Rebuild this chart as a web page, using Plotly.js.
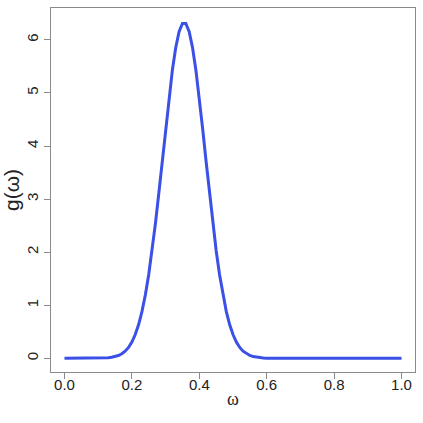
<!DOCTYPE html>
<html>
<head>
<meta charset="utf-8">
<script src="https://cdn.plot.ly/plotly-3.0.1.min.js"></script>
<style>html,body{margin:0;padding:0;background:#fff}#chart{width:423px;height:423px}</style>
</head>
<body>
<div id="chart"></div>
<script>
var omega = [0.00,0.01,0.02,0.03,0.04,0.05,0.06,0.07,0.08,0.09,
  0.10,0.11,0.12,0.13,0.14,0.15,0.16,0.17,0.18,0.19,
  0.20,0.21,0.22,0.23,0.24,0.25,0.26,0.27,0.28,0.29,
  0.30,0.31,0.32,0.33,0.34,0.35,0.36,0.37,0.38,0.39,
  0.40,0.41,0.42,0.43,0.44,0.45,0.46,0.47,0.48,0.49,
  0.50,0.51,0.52,0.53,0.54,0.55,0.56,0.57,0.58,0.59,
  0.60,0.61,0.62,0.63,0.64,0.65,0.66,0.67,0.68,0.69,
  0.70,0.71,0.72,0.73,0.74,0.75,0.76,0.77,0.78,0.79,
  0.80,0.81,0.82,0.83,0.84,0.85,0.86,0.87,0.88,0.89,
  0.90,0.91,0.92,0.93,0.94,0.95,0.96,0.97,0.98,0.99,1.00];
var gValues = [0,0,0,0,0,0,0,0,0,0.001,
  0.002,0.003,0.006,0.011,0.019,0.032,0.053,0.085,0.134,0.205,
  0.307,0.448,0.637,0.884,1.196,1.579,2.031,2.547,3.116,3.718,
  4.324,4.904,5.425,5.851,6.153,6.31,6.31,6.153,5.851,5.425,
  4.904,4.324,3.718,3.116,2.547,2.031,1.579,1.196,0.884,0.637,
  0.448,0.307,0.205,0.134,0.085,0.053,0.032,0.019,0.011,0.006,
  0.003,0.002,0.001,0,0,0,0,0,0,0,
  0,0,0,0,0,0,0,0,0,0,
  0,0,0,0,0,0,0,0,0,0,
  0,0,0,0,0,0,0,0,0,0,0];
var xTicks = [0, 0.2, 0.4, 0.6, 0.8, 1.0];
var xTickLabels = ["0.0", "0.2", "0.4", "0.6", "0.8", "1.0"];
var yTicks = [0, 1, 2, 3, 4, 5, 6];
var yTickLabels = ["0", "1", "2", "3", "4", "5", "6"];

var trace = {
  x: omega, y: gValues, type: 'scatter', mode: 'lines',
  line: {color: '#3a50e6', width: 3}, hoverinfo: 'skip'
};
var axisCommon = {
  showgrid: false, zeroline: false, showline: true, mirror: true,
  linecolor: '#8a8a8a', linewidth: 1, ticks: 'outside', ticklen: 6,
  tickcolor: '#8a8a8a', tickwidth: 1,
  tickfont: {family: 'Liberation Sans, Arial, sans-serif', size: 15, color: '#222'}
};
var layout = {
  width: 423, height: 423,
  margin: {l: 51, r: 8, t: 8, b: 51},
  paper_bgcolor: '#fff', plot_bgcolor: '#fff',
  showlegend: false,
  xaxis: Object.assign({}, axisCommon, {
    range: [-0.04, 1.04], tickmode: 'array', tickvals: xTicks, ticktext: xTickLabels,
    ticklabelstandoff: -7,
    title: {text: 'ω', font: {family: 'Liberation Serif, Times New Roman, serif', size: 18, color: '#222'}, standoff: 0}
  }),
  yaxis: Object.assign({}, axisCommon, {
    range: [-0.258, 6.6], tickmode: 'array', tickvals: yTicks, ticktext: yTickLabels,
    tickangle: -90,
    title: {text: 'g(ω)', font: {family: 'Liberation Sans, Arial, sans-serif', size: 21, color: '#222'}, standoff: 3}
  })
};
Plotly.newPlot('chart', [trace], layout, {displayModeBar: false, staticPlot: true});
</script>
</body>
</html>
